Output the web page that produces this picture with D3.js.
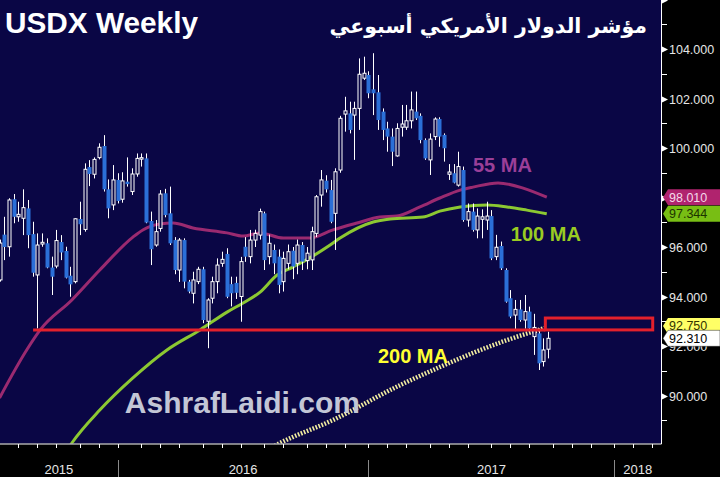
<!DOCTYPE html>
<html><head><meta charset="utf-8">
<script src="https://cdn.jsdelivr.net/npm/d3@7"></script>
<style>html,body{margin:0;padding:0;background:#000;}svg{display:block;}</style>
</head><body>
<svg id="c" width="720" height="477"></svg>
<script>
// ---- data (weekly candles, index 0 = first visible week) ----
const opens  = [94.67,96.50,96.01,97.93,97.22,97.16,97.56,96.52,94.87,96.12,96.15,95.17,95.23,96.20,95.84,94.84,94.60,97.13,96.71,99.23,98.94,99.61,100.08,98.33,97.70,98.71,97.93,98.64,98.24,98.95,99.55,99.58,97.05,96.08,96.75,98.17,97.36,96.28,95.07,96.28,94.60,94.13,94.60,95.10,93.00,93.93,94.60,95.34,95.72,94.50,94.55,94.00,96.01,95.61,96.28,96.48,97.36,95.61,95.88,95.61,94.60,95.34,95.85,95.34,96.08,95.45,95.48,96.55,98.10,98.68,98.30,97.36,99.11,101.37,101.40,101.33,101.60,102.82,102.95,102.37,102.25,101.47,100.79,100.46,99.68,100.84,100.84,101.10,101.47,101.30,100.32,99.52,100.46,101.17,100.53,98.94,98.98,98.50,99.11,97.09,97.43,96.69,97.12,97.09,97.25,95.61,96.04,95.07,93.93,93.25,93.48,93.05,93.39,92.38,92.51,91.37,91.87];
const highs  = [96.30,97.22,97.97,98.14,97.83,98.33,97.90,97.02,96.55,96.55,96.35,95.61,96.69,96.48,96.01,95.20,97.16,97.83,99.38,99.51,99.62,100.19,100.52,98.73,99.31,98.98,99.02,99.62,99.18,99.78,99.78,99.78,97.43,97.09,98.30,98.35,98.44,96.40,96.36,96.35,94.67,95.00,95.20,95.20,93.93,94.80,95.54,95.81,95.95,94.80,94.80,95.60,96.40,96.69,96.70,97.55,97.43,96.50,96.10,95.90,95.81,96.10,96.00,96.30,96.20,96.00,96.82,98.10,99.11,98.90,98.71,99.18,101.30,102.07,101.87,101.87,103.62,103.69,103.10,103.83,102.95,101.60,101.06,100.79,101.00,101.74,101.74,102.28,102.28,101.40,100.39,100.59,101.24,101.24,100.59,99.35,99.35,99.85,99.25,97.76,97.76,97.56,97.52,97.83,97.49,96.49,96.22,95.14,94.26,93.86,93.86,94.06,93.59,93.30,92.71,92.31,92.58];
const lows   = [94.60,95.47,95.61,96.96,97.02,96.48,95.95,94.80,92.71,96.01,95.14,94.06,95.14,95.47,94.73,93.99,94.53,96.48,96.62,98.46,98.77,99.54,98.24,97.16,97.49,97.76,97.79,98.44,98.10,98.84,99.25,96.96,95.27,96.01,96.62,97.20,96.08,94.90,94.59,94.33,94.13,93.72,94.50,92.92,91.91,93.72,94.13,95.20,93.93,93.60,93.90,92.98,95.40,95.34,96.00,96.30,95.07,95.30,94.90,94.13,94.20,95.10,94.70,94.90,95.07,95.10,95.07,96.40,97.63,98.20,96.96,95.88,99.00,100.66,100.59,99.52,100.73,102.75,102.01,101.33,100.73,100.32,99.85,99.27,99.65,100.46,100.73,100.79,101.13,100.19,99.52,98.91,100.32,100.05,99.45,98.71,98.57,98.44,97.02,96.82,96.62,96.35,96.35,96.69,95.47,95.47,95.07,93.75,93.12,92.60,92.98,92.70,92.65,91.64,91.03,91.17,91.50];
const closes = [96.16,96.00,97.90,97.22,97.32,97.59,96.48,94.96,96.08,96.19,95.17,94.80,96.26,95.78,94.76,94.49,97.14,96.92,99.14,98.95,99.54,100.03,98.33,97.56,98.71,97.86,98.67,98.54,98.95,99.58,99.61,96.99,95.91,96.62,98.14,97.29,96.15,95.07,96.28,94.60,94.20,94.67,95.10,93.05,93.86,94.60,95.27,95.50,93.99,94.13,94.15,95.41,95.61,96.28,96.55,97.43,95.47,96.15,95.34,94.47,95.54,95.81,95.21,96.08,95.41,95.75,96.62,98.03,98.71,98.33,97.02,99.04,101.20,101.50,100.73,101.60,102.98,103.02,102.21,102.21,101.13,100.73,100.46,99.85,100.79,100.97,101.10,101.54,101.20,100.32,99.58,100.36,101.17,100.46,99.99,99.03,98.60,99.25,97.09,97.43,96.69,97.25,97.22,97.25,95.54,95.99,95.14,93.79,93.19,93.48,93.05,93.39,92.71,92.75,91.30,91.84,92.31];

// moving averages: [week index, value]
const ma55Weeks  = [0,5.75,8.6,15.3,21.2,28.2,30.3,33.9,36.7,40.9,48.1,51.5,55.1,60,65.6,70.5,75.6,80.4,84,88.9,93.1,97.4,100.1,105.4,110.7,115.7];
const ma55Vals   = [89.90,91.84,92.65,93.86,95.07,96.40,96.69,96.93,96.97,96.77,96.57,96.44,96.57,96.36,96.36,96.69,96.97,97.21,97.25,97.62,97.98,98.30,98.42,98.59,98.38,98.01];
const ma100Weeks = [13,15.3,21.2,28.2,35.4,42.4,48.1,51.5,55.1,58.7,62,65.6,69.9,72,79,82.6,89.5,93.1,97.4,103.1,107.3,111.5,115.7];
const ma100Vals  = [87.40,88.08,89.41,90.71,91.84,92.65,93.37,93.74,94.18,94.87,95.19,95.56,96.08,96.36,97.01,97.13,97.21,97.45,97.62,97.70,97.62,97.49,97.344];
const ma200Weeks = [57,59.3,70.5,84.7,93.1,100.1,107.3,115.7];
const ma200Vals  = [87.85,88.08,89.01,90.42,91.15,91.72,92.24,92.75];

const lastValues = [98.010, 97.344, 92.750, 92.310];
const supportLevel = 92.65, supportFrom = 7.1, supportTo = 115.4, boxTop = 93.13, boxTo = 138.1;

const monthTickWeeks = [4,8,12,17,21,25,30,34,38,43,47,51,56,60,65,69,73,78,82,86,91,95,99,104,108,112,117,121,125,130,134,138];
const yearStartWeeks = [25,78,130];
const yearLabels = ["2015","2016","2017","2018"];
const yTicks = d3.range(88, 107);

// ---- layout ----
const W = 720, H = 477, plotR = 661, plotB = 443.5;
const NAVY = "#0a0645";
const x = d3.scaleLinear().domain([0, 139.85]).range([-0.5, 661]);
const y = d3.scaleLinear().domain([90, 104]).range([395.5, 49]);

const svg = d3.select("#c");
svg.append("rect").attr("width", W).attr("height", H).attr("fill", "#000");
svg.append("rect").attr("x", 0).attr("y", 0).attr("width", plotR).attr("height", plotB).attr("fill", NAVY);
svg.append("defs").append("clipPath").attr("id", "pc")
  .append("rect").attr("x", 0).attr("y", 0).attr("width", plotR).attr("height", plotB);
const plot = svg.append("g").attr("clip-path", "url(#pc)");

// moving averages
const line = d3.line().x(d => x(d[0])).y(d => y(d[1])).curve(d3.curveMonotoneX);
plot.append("path").datum(d3.zip(ma55Weeks, ma55Vals)).attr("d", line)
  .attr("fill", "none").attr("stroke", "#9a2a70").attr("stroke-width", 3);
plot.append("path").datum(d3.zip(ma100Weeks, ma100Vals)).attr("d", line)
  .attr("fill", "none").attr("stroke", "#8cc832").attr("stroke-width", 3);
plot.append("path").datum(d3.zip(ma200Weeks, ma200Vals)).attr("d", line)
  .attr("fill", "none").attr("stroke", "#f3eea0").attr("stroke-width", 4.5)
  .attr("stroke-dasharray", "1.6,1.6");

// candles
const candles = d3.range(opens.length).map(i => ({i, o: opens[i], h: highs[i], l: lows[i], c: closes[i]}));
const cg = plot.append("g");
cg.selectAll("line.w").data(candles).join("line")
  .attr("x1", d => Math.round(x(d.i)) + 0.5).attr("x2", d => Math.round(x(d.i)) + 0.5)
  .attr("y1", d => y(d.h)).attr("y2", d => y(d.l))
  .attr("stroke", "#fff").attr("stroke-width", 1);
cg.selectAll("rect.b").data(candles).join("rect")
  .attr("x", d => d.c >= d.o ? Math.round(x(d.i)) - 1 : Math.round(x(d.i)) - 1.5)
  .attr("width", d => d.c >= d.o ? 3 : 4)
  .attr("y", d => y(Math.max(d.o, d.c)))
  .attr("height", d => Math.max(1, Math.abs(y(d.o) - y(d.c))))
  .attr("fill", d => d.c >= d.o ? NAVY : "#2b6fd8")
  .attr("stroke", d => d.c >= d.o ? "#fff" : "none")
  .attr("stroke-width", 1);

// support line + box
plot.append("line").attr("x1", x(supportFrom)).attr("x2", x(supportTo))
  .attr("y1", y(supportLevel)).attr("y2", y(supportLevel))
  .attr("stroke", "#e3202c").attr("stroke-width", 3);
plot.append("rect").attr("x", x(supportTo)).attr("y", y(boxTop))
  .attr("width", x(boxTo) - x(supportTo)).attr("height", y(supportLevel) - y(boxTop))
  .attr("fill", "none").attr("stroke", "#e3202c").attr("stroke-width", 3);

// chart texts
const bold = "'Liberation Sans', Arial, sans-serif";
plot.append("text").attr("x", x(100.1)).attr("y", y(99.03)).text("55 MA")
  .attr("font-family", bold).attr("font-weight", "bold").attr("font-size", 20).attr("fill", "#9a3f98");
plot.append("text").attr("x", x(108.1)).attr("y", y(96.24)).text("100 MA")
  .attr("font-family", bold).attr("font-weight", "bold").attr("font-size", 20).attr("fill", "#9acb22");
plot.append("text").attr("x", x(80)).attr("y", y(91.31)).text("200 MA")
  .attr("font-family", bold).attr("font-weight", "bold").attr("font-size", 20).attr("fill", "#ffff33");
plot.append("text").attr("x", x(26.5)).attr("y", y(89.29)).text("AshrafLaidi.com")
  .attr("font-family", bold).attr("font-weight", "bold").attr("font-size", 30).attr("fill", "#c3c6d6");

// titles
svg.append("text").attr("x", 5).attr("y", 33).text("USDX Weekly")
  .attr("font-family", bold).attr("font-weight", "bold").attr("font-size", 29)
  .attr("textLength", 193).attr("lengthAdjust", "spacingAndGlyphs").attr("fill", "#fff");
svg.append("text").attr("x", 647).attr("y", 33).attr("text-anchor", "end")
  .text("مؤشر الدولار الأمريكي أسبوعي")
  .attr("font-family", "'DejaVu Sans', sans-serif").attr("font-weight", "bold").attr("font-size", 20.5).attr("fill", "#fff");

// plot borders
svg.append("line").attr("x1", plotR + 0.5).attr("x2", plotR + 0.5).attr("y1", 0).attr("y2", plotB + 0.5).attr("stroke", "#fff");
svg.append("line").attr("x1", 0).attr("x2", plotR + 0.5).attr("y1", plotB + 0.5).attr("y2", plotB + 0.5).attr("stroke", "#fff");

// y axis
const ax = svg.append("g");
const axisFont = "'Liberation Sans', 'DejaVu Sans', sans-serif";
yTicks.forEach(v => {
  const yy = Math.round(y(v)) + 0.5;
  if (yy < 0 || yy > plotB) return;
  if (v % 2 === 0) {
    ax.append("path").attr("d", `M${plotR + 1},${yy - 3}L${plotR + 7},${yy}L${plotR + 1},${yy + 3}Z`).attr("fill", "#fff");
    if (yy > 10) {
      ax.append("text").attr("x", 669).attr("y", yy).attr("dy", "0.35em").text(d3.format(".3f")(v))
        .attr("font-family", axisFont).attr("font-size", 12.5).attr("fill", "#e6e6e6");
    }
  } else {
    ax.append("line").attr("x1", plotR + 1).attr("x2", plotR + 6).attr("y1", yy).attr("y2", yy).attr("stroke", "#fff");
  }
});

// last-value tags
const tagFill = ["#b0236e", "#78be14", "#ffff66", "#ffffff"];
const tagText = ["#f4d8ea", "#1c3300", "#333300", "#000000"];
lastValues.forEach((v, k) => {
  const cy = y(v) - (k === 2 ? 1.5 : 0);
  svg.append("path").attr("d", `M663,${cy}L668,${cy - 8}L720,${cy - 8}L720,${cy + 8}L668,${cy + 8}Z`)
    .attr("fill", tagFill[k]).attr("stroke", k === 3 ? "#222" : "none").attr("stroke-width", 0.5);
  svg.append("text").attr("x", 669).attr("y", cy).attr("dy", "0.36em").text(d3.format(".3f")(v))
    .attr("font-family", axisFont).attr("font-size", 12.5).attr("fill", tagText[k]);
});

// x axis
monthTickWeeks.forEach(i => {
  const xx = Math.round(x(i)) + 0.5;
  svg.append("line").attr("x1", xx).attr("x2", xx).attr("y1", plotB + 0.5).attr("y2", plotB + 4.5).attr("stroke", "#fff");
});
const bounds = [0, ...yearStartWeeks.map(i => x(i)), plotR];
yearStartWeeks.forEach(i => {
  const xx = Math.round(x(i)) + 0.5;
  svg.append("line").attr("x1", xx).attr("x2", xx).attr("y1", 460).attr("y2", 477).attr("stroke", "#8a8a8a");
});
yearLabels.forEach((t, k) => {
  svg.append("text").attr("x", (bounds[k] + bounds[k + 1]) / 2).attr("y", 474).attr("text-anchor", "middle").text(t)
    .attr("font-family", axisFont).attr("font-size", 13).attr("fill", "#e6e6e6");
});
</script>
</body></html>
